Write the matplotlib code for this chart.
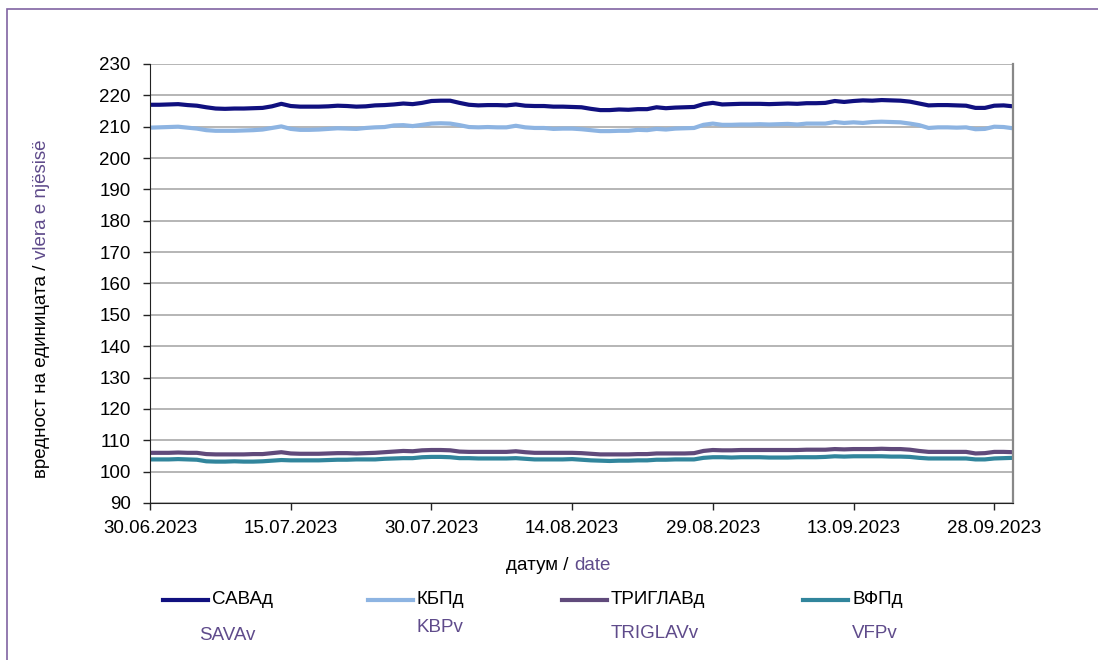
import matplotlib.pyplot as plt
from matplotlib.lines import Line2D
from matplotlib.patches import Rectangle
import pandas as pd

plt.rcParams['font.family'] = ['Liberation Sans', 'DejaVu Sans']

# daily values, 30.06.2023 - 30.09.2023
dates = pd.date_range('2023-06-30', '2023-09-30', freq='D')

sava = [217.0, 217.0, 217.1, 217.2, 216.9, 216.7,
        216.2, 215.8, 215.7, 215.8, 215.8, 215.9, 216.0,
        216.5, 217.3,
        216.6, 216.4, 216.4, 216.4, 216.5,
        216.7, 216.6, 216.4, 216.5, 216.8,
        216.9, 217.1, 217.4, 217.2, 217.6,
        218.2, 218.3, 218.3,
        217.6, 217.0, 216.8, 216.9, 216.9, 216.8, 217.1,
        216.7, 216.6, 216.6, 216.4, 216.4,
        216.3, 216.2, 215.7, 215.3,
        215.3, 215.5, 215.4, 215.6, 215.6,
        216.2, 215.9, 216.1, 216.2, 216.3,
        217.2, 217.6, 217.1,
        217.2, 217.3, 217.3, 217.3, 217.2, 217.3, 217.4, 217.3, 217.5, 217.5,
        217.6, 218.2, 217.9, 218.2,
        218.4, 218.3, 218.5, 218.4, 218.3, 218.0, 217.4,
        216.8, 216.9, 216.9, 216.8, 216.7,
        216.0, 216.0, 216.7, 216.8, 216.5]

kbp = [209.7, 209.8, 209.9, 210.0, 209.7, 209.4,
       208.9, 208.7, 208.7, 208.7, 208.8, 208.9, 209.1,
       209.6, 210.1,
       209.3, 209.0, 209.0, 209.1, 209.3,
       209.5, 209.4, 209.3, 209.6, 209.8,
       209.9, 210.4, 210.5, 210.2, 210.6,
       211.0, 211.1, 211.0,
       210.5, 209.9, 209.8, 209.9, 209.8, 209.8, 210.3,
       209.8, 209.6, 209.6, 209.3, 209.4,
       209.4, 209.2, 208.9, 208.6,
       208.6, 208.7, 208.7, 209.0, 208.9,
       209.3, 209.1, 209.4, 209.5, 209.6,
       210.6, 211.0, 210.6,
       210.6, 210.7, 210.7, 210.8, 210.7, 210.8, 210.9, 210.7, 211.0, 211.0,
       211.0, 211.5, 211.2, 211.4,
       211.2, 211.5, 211.6, 211.5, 211.4, 211.0, 210.5,
       209.6, 209.8, 209.8, 209.7, 209.8,
       209.2, 209.3, 210.0, 209.9, 209.5]

triglav = [106.0, 106.0, 106.0, 106.1, 106.0, 106.0,
           105.6, 105.5, 105.5, 105.5, 105.5, 105.6, 105.6,
           105.9, 106.2,
           105.8, 105.7, 105.7, 105.7, 105.8,
           105.9, 105.9, 105.8, 105.9, 106.0,
           106.2, 106.4, 106.6, 106.5, 106.8,
           106.9, 106.9, 106.8,
           106.4, 106.3, 106.3, 106.3, 106.3, 106.3, 106.5,
           106.2, 106.0, 106.0, 106.0, 106.0,
           106.0, 105.9, 105.7, 105.5,
           105.5, 105.5, 105.5, 105.6, 105.6,
           105.8, 105.8, 105.8, 105.8, 105.9,
           106.6, 106.9, 106.8,
           106.8, 106.9, 106.9, 106.9, 106.9, 106.9, 106.9, 106.9, 107.0, 107.0,
           107.0, 107.2, 107.1, 107.2,
           107.2, 107.2, 107.3, 107.2, 107.2, 107.0, 106.6,
           106.3, 106.3, 106.3, 106.3, 106.3,
           105.8, 105.9, 106.3, 106.3, 106.2]

vfp = [103.9, 103.9, 103.9, 104.0, 103.9, 103.8,
       103.3, 103.2, 103.2, 103.3, 103.2, 103.2, 103.3,
       103.5, 103.7,
       103.6, 103.6, 103.6, 103.6, 103.7,
       103.8, 103.8, 103.9, 103.9, 103.9,
       104.1, 104.2, 104.3, 104.3, 104.6,
       104.7, 104.7, 104.6,
       104.3, 104.3, 104.2, 104.2, 104.2, 104.2, 104.3,
       104.1, 103.9, 103.9, 103.9, 103.9,
       104.0, 103.8, 103.6, 103.5,
       103.4, 103.5, 103.5, 103.6, 103.6,
       103.8, 103.8, 103.9, 103.9, 103.9,
       104.4, 104.6, 104.6,
       104.5, 104.6, 104.6, 104.6, 104.5, 104.5, 104.5, 104.6, 104.6, 104.6,
       104.7, 104.9, 104.8, 104.9,
       104.9, 104.9, 104.9, 104.8, 104.8, 104.7, 104.4,
       104.2, 104.2, 104.2, 104.2, 104.2,
       103.9, 103.9, 104.2, 104.3, 104.4]

names_mk = ['САВАд', 'КБПд', 'ТРИГЛАВд', 'ВФПд']
names_al = ['SAVAv', 'KBPv', 'TRIGLAVv', 'VFPv']
colors = ['#10107f', '#8db4e2', '#604a7b', '#31859c']
series = [sava, kbp, triglav, vfp]
purple_txt = '#5f4b8b'
fs = 13.5

W, H = 1098, 660
fig = plt.figure(figsize=(W / 100, H / 100), dpi=100)
fig.patches.append(Rectangle((7 / W, -0.1), 1.2, 0.1 + 1 - 9 / H, transform=fig.transFigure,
                             fill=False, edgecolor='#8064a2', lw=1.2))

ax = fig.add_axes([150 / W, 1 - 503 / H, 863 / W, 439 / H])
for vals, c, n in zip(series, colors, names_mk):
    ax.plot(dates, vals, color=c, lw=3, label=n, solid_capstyle='round')

ax.set_xlim(dates[0], dates[-1])
ax.set_ylim(90, 230)
ax.set_yticks(range(90, 231, 10))
ax.set_xticks(dates[::15])
ax.set_xticklabels([d.strftime('%d.%m.%Y') for d in dates[::15]])
ax.tick_params(labelsize=fs, length=5, width=1, color='#222222')
ax.tick_params(axis='y', pad=9)
ax.tick_params(axis='x', pad=7)
ax.grid(axis='y', color='#b0b0b0', lw=1.3)
ax.set_axisbelow(True)
ax.spines['top'].set_visible(False)
ax.spines['right'].set_color('#888888')
ax.spines['right'].set_linewidth(1.6)
ax.spines['left'].set_color('#222222')
ax.spines['bottom'].set_color('#222222')

fig.canvas.draw()
r = fig.canvas.get_renderer()

# y label, two colours
t1 = fig.text(42 / W, 1 - 478 / H, 'вредност на единицата / ', rotation=90,
              ha='center', va='bottom', fontsize=fs, color='black')
bb = t1.get_window_extent(r)
fig.text(42 / W, bb.y1 / (H), 'vlera e njësisë', rotation=90,
         ha='center', va='bottom', fontsize=fs, color=purple_txt)

# x label, two colours
t2 = fig.text(506 / W, 1 - 566 / H, 'датум / ', ha='left', va='center',
              fontsize=fs, color='black')
bb = t2.get_window_extent(r)
fig.text(bb.x1 / W, 1 - 566 / H, 'date', ha='left', va='center',
         fontsize=fs, color=purple_txt)

# legend
key_x = [163, 368, 562, 803]
al_pos = [(199, 636), (416, 627), (611, 633), (852, 634)]
for kx, c, n, a, (px, py) in zip(key_x, colors, names_mk, names_al, al_pos):
    fig.add_artist(Line2D([kx / W, (kx + 45) / W], [1 - 600 / H] * 2, color=c, lw=3,
                          transform=fig.transFigure))
    fig.text((kx + 49) / W, 1 - 600 / H, n, ha='left', va='center', fontsize=fs)
    fig.text(px / W, 1 - py / H, a, ha='left', va='center', fontsize=fs, color=purple_txt)

fig.savefig('out.png', dpi=100)
